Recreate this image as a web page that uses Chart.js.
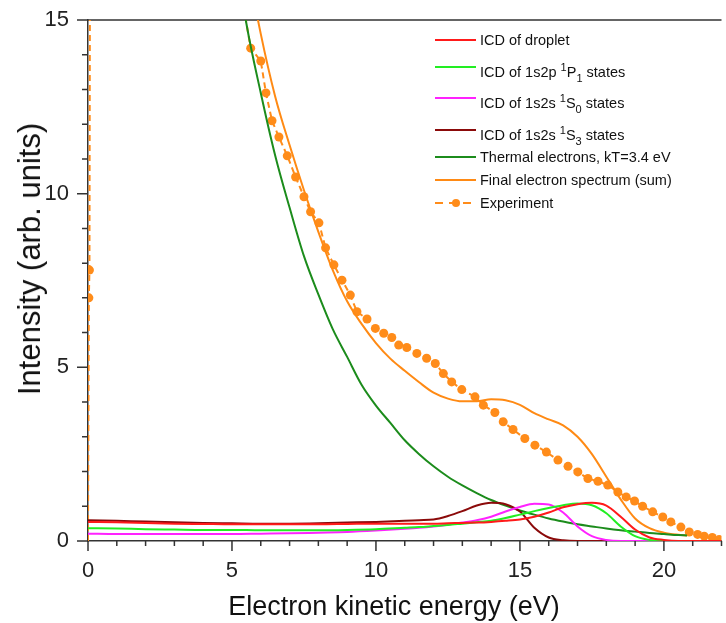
<!DOCTYPE html>
<html>
<head>
<meta charset="utf-8">
<script src="https://cdn.jsdelivr.net/npm/chart.js@4.4.1/dist/chart.umd.min.js"></script>
<style>
  body { margin: 0; background: #fff; font-family: "Liberation Sans", Arial, sans-serif; }
  #wrap { position: relative; width: 726px; height: 623px; }
  .ytitle { position: absolute; left: 30px; top: 259px; transform: translate(-50%, -50%) rotate(-90deg);
    font-size: 31px; white-space: nowrap; color: #111; }
  .xtitle { position: absolute; left: 394px; top: 606px; transform: translate(-50%, -50%);
    font-size: 27px; white-space: nowrap; color: #111; }
  .legend { position: absolute; left: 435px; top: 28px; font-size: 14.5px; color: #111; }
  .legend .row { position: absolute; left: 0; white-space: nowrap; height: 20px; }
  .legend .sw { position: absolute; left: 0; top: 9px; width: 41px; height: 0; border-top: 2px solid; }
  .legend .tx { position: absolute; left: 45px; top: 0; line-height: 20px; }
  .legend sup, .legend sub { font-size: 11px; }
  .legend sup { vertical-align: 6px; }
  .legend sub { vertical-align: -5px; }
</style>
</head>
<body>
<div id="wrap">
  <canvas id="spectrum"></canvas>
  <div class="ytitle">Intensity (arb. units)</div>
  <div class="xtitle">Electron kinetic energy (eV)</div>
  <div class="legend" id="legend"></div>
</div>
<script>
// energies (eV) shared by the four ICD curves
const icdEv = [0, 1, 2, 3, 4, 5, 6, 7, 8, 9, 10, 11, 11.5, 12, 12.5, 13, 13.5, 14, 14.5, 15, 15.5, 16,
  16.5, 17, 17.5, 18, 18.5, 19, 19.5, 20, 20.5, 21, 22];
const icdDroplet = [0.55, 0.54, 0.52, 0.5, 0.49, 0.48, 0.48, 0.48, 0.48, 0.49, 0.5, 0.5, 0.5, 0.5, 0.51, 0.52,
  0.53, 0.55, 0.58, 0.62, 0.7, 0.82, 0.97, 1.06, 1.1, 1.02, 0.7, 0.33, 0.1, 0.03, 0, 0, 0];
const icd1P1 = [0.37, 0.36, 0.34, 0.33, 0.32, 0.32, 0.31, 0.31, 0.31, 0.32, 0.34, 0.38, 0.4, 0.43, 0.46, 0.5,
  0.54, 0.58, 0.66, 0.76, 0.86, 0.95, 1.03, 1.08, 1.03, 0.8, 0.42, 0.14, 0.03, 0, 0, 0, 0];
const icd1S0 = [0.21, 0.2, 0.2, 0.2, 0.2, 0.2, 0.21, 0.22, 0.24, 0.26, 0.3, 0.35, 0.38, 0.42, 0.47, 0.53,
  0.6, 0.7, 0.85, 0.98, 1.07, 1.05, 0.82, 0.42, 0.14, 0.03, 0, 0, 0, 0, 0, 0, 0];
const icd1S3 = [0.6, 0.58, 0.56, 0.54, 0.52, 0.51, 0.5, 0.5, 0.51, 0.53, 0.55, 0.58, 0.6, 0.62, 0.72, 0.86,
  1.02, 1.1, 1.06, 0.85, 0.38, 0.1, 0.02, 0, 0, 0, 0, 0, 0, 0, 0, 0, 0];

// thermal electrons and the summed spectrum
const modelEv = [5, 5.5, 6, 6.5, 7, 7.5, 8, 8.5, 9, 9.5, 10, 10.5, 11, 11.5, 12, 12.5, 13, 13.5, 14, 14.5,
  15, 15.5, 16, 16.5, 17, 17.5, 18, 18.5, 19, 19.5, 20, 20.5, 20.8];
const thermal = [17.6, 14.9, 12.9, 11.1, 9.6, 8.2, 7.1, 6.1, 5.3, 4.5, 3.9, 3.4, 2.9, 2.5, 2.15, 1.85, 1.6,
  1.38, 1.18, 1.02, 0.88, 0.76, 0.65, 0.56, 0.48, 0.42, 0.36, 0.31, 0.27, 0.23, 0.2, 0.17, 0.16];
const finalSum = [19.5, 16.8, 14.6, 12.8, 11.4, 10.1, 8.9, 7.8, 6.9, 6.25, 5.7, 5.25, 4.9, 4.57, 4.27, 4.1,
  4.02, 4.02, 4.08, 4.05, 3.92, 3.68, 3.5, 3.33, 3.0, 2.5, 1.85, 1.2, 0.65, 0.37, 0.24, 0.18, 0.16];

// measured spectrum
const expEv = [0, 0.03, 0.05, 0.08, 1, 3, 5, 5.4, 5.65, 6.0, 6.18, 6.39, 6.63, 6.92, 7.21, 7.5, 7.73, 8.02,
  8.25, 8.54, 8.82, 9.11, 9.34, 9.69, 9.98, 10.27, 10.55, 10.79, 11.07, 11.42, 11.76, 12.06, 12.34, 12.63,
  12.98, 13.44, 13.73, 14.13, 14.42, 14.76, 15.17, 15.52, 15.92, 16.32, 16.67, 17.01, 17.36, 17.71, 18.05,
  18.4, 18.69, 18.98, 19.26, 19.61, 19.96, 20.24, 20.59, 20.88, 21.17, 21.4, 21.68, 21.92];
const expIntensity = [0, 7.0, 7.8, 22, 45, 30, 17.5, 15.4, 14.19, 13.82, 12.9, 12.1, 11.63, 11.09, 10.48,
  9.91, 9.48, 9.16, 8.44, 7.95, 7.51, 7.08, 6.6, 6.39, 6.12, 5.98, 5.86, 5.64, 5.57, 5.4, 5.26, 5.11, 4.82,
  4.58, 4.36, 4.15, 3.91, 3.7, 3.43, 3.21, 2.95, 2.76, 2.56, 2.33, 2.15, 1.99, 1.8, 1.72, 1.61, 1.41, 1.27,
  1.15, 1.0, 0.84, 0.69, 0.55, 0.4, 0.26, 0.19, 0.14, 0.1, 0.04];

const xTicks = [0, 5, 10, 15, 20];
const yTicks = [0, 5, 10, 15];

const zip = (xs, ys) => xs.map((x, i) => ({ x, y: ys[i] }));

const series = [
  { label: 'ICD of droplet', html: 'ICD of droplet', xs: icdEv, ys: icdDroplet, color: '#ff1a1a' },
  { label: 'ICD of 1s2p 1P1 states', html: 'ICD of 1s2p <sup>1</sup>P<sub>1</sub> states', xs: icdEv, ys: icd1P1, color: '#22ee22' },
  { label: 'ICD of 1s2s 1S0 states', html: 'ICD of 1s2s <sup>1</sup>S<sub>0</sub> states', xs: icdEv, ys: icd1S0, color: '#ff22ff' },
  { label: 'ICD of 1s2s 1S3 states', html: 'ICD of 1s2s <sup>1</sup>S<sub>3</sub> states', xs: icdEv, ys: icd1S3, color: '#8b0a0a' },
  { label: 'Thermal electrons, kT=3.4 eV', html: 'Thermal electrons, kT=3.4 eV', xs: modelEv, ys: thermal, color: '#1c8c1c' },
  { label: 'Final electron spectrum (sum)', html: 'Final electron spectrum (sum)', xs: modelEv, ys: finalSum, color: '#ff8a14' },
];

const datasets = series.map((s) => ({
  label: s.label,
  data: zip(s.xs, s.ys),
  borderColor: s.color,
  borderWidth: 2,
  pointRadius: 0,
  cubicInterpolationMode: 'monotone',
}));
datasets.push({
  label: 'Experiment',
  data: zip(expEv, expIntensity),
  borderColor: '#ff8c1a',
  backgroundColor: '#ff8c1a',
  borderWidth: 2,
  borderDash: [6, 4],
  tension: 0,
  pointRadius: (ctx) => (ctx.raw && ctx.raw.y === 0 ? 0 : 4.5),
  pointBorderWidth: 0,
});

// minor/major ticks drawn outward + the top frame line
const axisTicks = {
  id: 'axisTicks',
  beforeDatasetsDraw(chart) {
    const { ctx, chartArea: a, scales: { x, y } } = chart;
    ctx.save();
    ctx.strokeStyle = '#333';
    ctx.lineWidth = 1.5;
    ctx.beginPath();
    for (let v = 0; v <= 22; v++) {
      const px = x.getPixelForValue(v);
      ctx.moveTo(px, a.bottom);
      ctx.lineTo(px, a.bottom + (v % 5 === 0 ? 10 : 5));
    }
    for (let v = 0; v <= 15; v++) {
      const py = y.getPixelForValue(v);
      ctx.moveTo(a.left, py);
      ctx.lineTo(a.left - (v % 5 === 0 ? 11 : 6), py);
    }
    ctx.moveTo(a.left, a.top);
    ctx.lineTo(a.right, a.top);
    ctx.stroke();
    ctx.restore();
  },
};

new Chart(document.getElementById('spectrum'), {
  type: 'line',
  data: { datasets },
  plugins: [axisTicks],
  options: {
    responsive: true,
    maintainAspectRatio: false,
    animation: false,
    layout: { padding: { top: 20, right: 0, left: 0, bottom: 0 } },
    plugins: { legend: { display: false }, tooltip: { enabled: false } },
    scales: {
      x: {
        type: 'linear',
        min: 0,
        max: 22,
        grid: { display: false },
        border: { display: true, color: '#333', width: 1.5 },
        afterBuildTicks: (scale) => { scale.ticks = xTicks.map((value) => ({ value })); },
        afterFit: (scale) => { scale.height = 82; scale.paddingLeft = 0; scale.paddingRight = 0; },
        ticks: { padding: 9, color: '#222', font: { family: 'Liberation Sans', size: 22 } },
      },
      y: {
        type: 'linear',
        min: 0,
        max: 15,
        grid: { display: false },
        border: { display: true, color: '#333', width: 1.5 },
        afterBuildTicks: (scale) => { scale.ticks = yTicks.map((value) => ({ value })); },
        afterFit: (scale) => { scale.width = 88; scale.paddingTop = 0; scale.paddingBottom = 0; },
        ticks: { padding: 11, color: '#222', font: { family: 'Liberation Sans', size: 22 } },
      },
    },
  },
});

// legend with super/subscripts
const legend = document.getElementById('legend');
const rowTops = [2, 29, 60, 92, 119, 142, 165];
series.forEach((s, i) => {
  const row = document.createElement('div');
  row.className = 'row';
  row.style.top = rowTops[i] + 'px';
  row.innerHTML = `<span class="sw" style="border-color:${s.color}"></span><span class="tx">${s.html}</span>`;
  legend.appendChild(row);
});
const expRow = document.createElement('div');
expRow.className = 'row';
expRow.style.top = rowTops[6] + 'px';
expRow.innerHTML = '<svg width="42" height="20" style="position:absolute;left:0;top:0">' +
  '<line x1="0" y1="10" x2="42" y2="10" stroke="#ff8c1a" stroke-width="2" stroke-dasharray="8,6"/>' +
  '<circle cx="21" cy="10" r="4" fill="#ff8c1a"/></svg><span class="tx">Experiment</span>';
legend.appendChild(expRow);
</script>
</body>
</html>
